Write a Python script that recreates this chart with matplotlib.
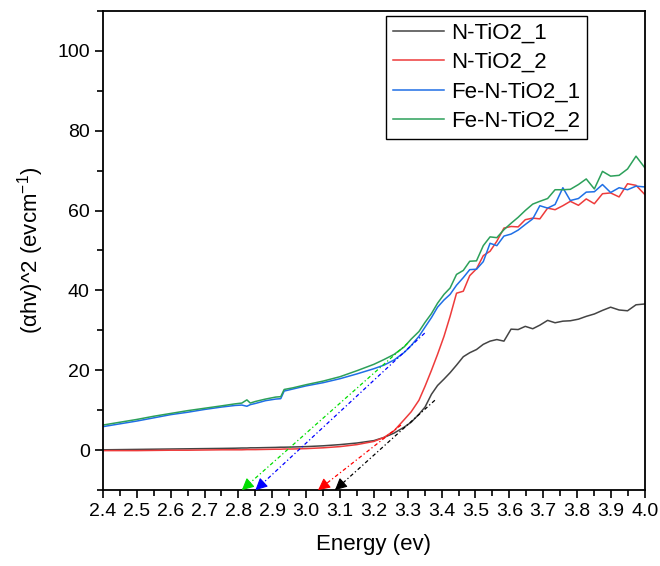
import matplotlib
matplotlib.use("Agg")
import matplotlib.pyplot as plt
from matplotlib.ticker import MultipleLocator

plt.rcParams['font.family'] = ['Liberation Sans', 'DejaVu Sans']
plt.rcParams['mathtext.fontset'] = 'custom'
plt.rcParams['mathtext.rm'] = 'Liberation Sans'
plt.rcParams['mathtext.it'] = 'Liberation Sans:italic'

# photon energy (eV); upper part follows the 2 nm wavelength grid of the spectrometer
energy = [2.40, 2.45, 2.50, 2.55, 2.60, 2.65, 2.70, 2.75, 2.79, 2.81, 2.825, 2.835, 2.85, 2.88,
          2.91, 2.925, 2.935, 2.96, 3.00, 3.05, 3.10, 3.15, 3.20, 3.23, 3.26, 3.29, 3.31,
          3.333, 3.351, 3.370, 3.388, 3.407, 3.425, 3.444, 3.464, 3.483, 3.503, 3.523, 3.543,
          3.563, 3.584, 3.605, 3.626, 3.647, 3.669, 3.690, 3.713, 3.735, 3.758, 3.780, 3.804,
          3.827, 3.851, 3.875, 3.899, 3.924, 3.949, 3.974, 4.000]

n_tio2_1 = [0.1, 0.15, 0.2, 0.25, 0.3, 0.35, 0.4, 0.45, 0.5, 0.55, 0.55, 0.6, 0.6, 0.65,
            0.7, 0.75, 0.75, 0.8, 0.9, 1.1, 1.4, 1.8, 2.4, 3.2, 4.3, 5.8, 7.0,
            9.0, 10.8, 14.0, 16.2, 17.8, 19.4, 21.3, 23.4, 24.4, 25.2, 26.5, 27.3,
            27.7, 27.3, 30.3, 30.2, 31.0, 30.4, 31.3, 32.5, 31.9, 32.3, 32.4, 32.8,
            33.5, 34.1, 35.0, 35.8, 35.1, 34.9, 36.4, 36.6]

n_tio2_2 = [-0.1, -0.1, -0.1, -0.05, 0.0, 0.0, 0.05, 0.1, 0.1, 0.1, 0.15, 0.15, 0.15, 0.2,
            0.25, 0.25, 0.3, 0.3, 0.4, 0.6, 0.9, 1.4, 2.2, 3.2, 4.9, 7.7, 9.6,
            12.5, 16.0, 20.0, 24.0, 28.5, 33.5, 39.3, 39.8, 43.7, 45.4, 48.7, 49.8,
            52.3, 55.6, 56.0, 55.9, 57.7, 58.1, 57.9, 60.6, 60.2, 61.2, 62.3, 61.3,
            62.9, 61.7, 64.2, 64.4, 63.4, 66.7, 66.3, 64.0]

fe_n_tio2_1 = [5.9, 6.6, 7.3, 8.1, 8.9, 9.5, 10.2, 10.8, 11.2, 11.3, 11.0, 11.4, 11.7, 12.4,
               12.8, 12.9, 14.8, 15.3, 16.1, 16.9, 17.9, 19.1, 20.4, 21.3, 22.6, 24.5, 26.2,
               28.5, 30.8, 33.2, 35.8, 37.6, 39.0, 41.3, 43.2, 45.2, 45.3, 47.2, 51.8,
               51.2, 53.6, 54.1, 55.1, 56.5, 57.9, 61.2, 60.6, 61.5, 65.7, 62.5, 63.0,
               64.6, 64.7, 66.5, 64.5, 65.7, 65.2, 66.1, 65.9]

fe_n_tio2_2 = [6.3, 7.0, 7.7, 8.5, 9.2, 9.9, 10.5, 11.1, 11.6, 11.8, 12.6, 11.8, 12.2, 12.8,
               13.3, 13.4, 15.2, 15.6, 16.4, 17.3, 18.4, 19.9, 21.5, 22.7, 24.0, 25.9, 27.8,
               29.7, 32.0, 34.2, 36.8, 39.0, 40.6, 44.0, 45.0, 47.3, 47.4, 51.2, 53.4,
               53.2, 55.2, 56.8, 58.3, 60.0, 61.6, 62.3, 63.0, 65.2, 65.2, 65.3, 66.5,
               67.9, 65.4, 69.8, 68.6, 68.8, 70.4, 73.6, 70.7]

labels = ["N-TiO2_1", "N-TiO2_2", "Fe-N-TiO2_1", "Fe-N-TiO2_2"]
line_colors = ["#444444", "#ee3b3b", "#1f6fe6", "#2ca05a"]

# tangent lines: (upper point) -> (band gap on the axis)
tangent_top = [(3.38, 12.5), (3.28, 6.3), (3.35, 29.3), (3.30, 26.8)]
band_gap = [3.085, 3.035, 2.85, 2.81]
tangent_colors = ["black", "red", "blue", "#00dd00"]

fig, ax = plt.subplots(figsize=(6.6, 5.66), dpi=100)
fig.subplots_adjust(left=0.156, right=0.977, bottom=0.134, top=0.981)

for ys, lab, c in zip([n_tio2_1, n_tio2_2, fe_n_tio2_1, fe_n_tio2_2], labels, line_colors):
    ax.plot(energy, ys, color=c, lw=1.1, label=lab)

ymin = -10
for (xt, yt), eg, c in zip(tangent_top, band_gap, tangent_colors):
    ax.plot([xt, eg], [yt, ymin], color=c, lw=0.9, ls=(0, (3, 2, 1, 2)))
    dx = (xt - eg) * 0.045
    dy = (yt - ymin) * 0.045
    ax.annotate("", xy=(eg, ymin), xytext=(eg + dx, ymin + dy),
                arrowprops=dict(arrowstyle="-|>", color=c, lw=0.8, mutation_scale=18,
                                shrinkA=0, shrinkB=0))

ax.set_xlim(2.4, 4.0)
ax.set_ylim(-10, 110)
ax.xaxis.set_major_locator(MultipleLocator(0.1))
ax.xaxis.set_minor_locator(MultipleLocator(0.05))
ax.yaxis.set_major_locator(MultipleLocator(20))
ax.yaxis.set_minor_locator(MultipleLocator(10))
ax.set_yticks([0, 20, 40, 60, 80, 100])
ax.tick_params(which="both", direction="out", labelsize=14, width=1.2, top=False, right=False)
ax.tick_params(which="major", length=6)
ax.tick_params(which="minor", length=4)
ax.xaxis.set_major_formatter(matplotlib.ticker.FormatStrFormatter("%.1f"))
for s in ax.spines.values():
    s.set_linewidth(1.3)

ax.set_xlabel("Energy (ev)", fontsize=16, labelpad=10)
ax.set_ylabel("(\u03b1hv)^2 (evcm$^{-1}$)", fontsize=16, labelpad=8)

leg = ax.legend(loc="upper right", bbox_to_anchor=(0.894, 0.989), fontsize=16, frameon=True,
                fancybox=False, edgecolor="black", framealpha=1, handlelength=2.3,
                labelspacing=0.38, borderpad=0.3, handletextpad=0.35, borderaxespad=0)
leg.get_frame().set_linewidth(1.0)

plt.savefig("out.png", dpi=100)
